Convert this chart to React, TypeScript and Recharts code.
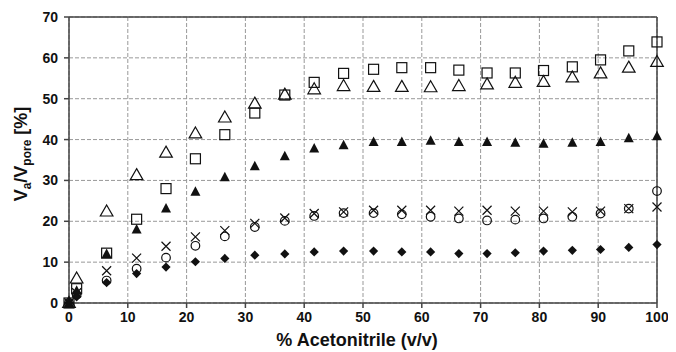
import { ScatterChart, Scatter, XAxis, YAxis, CartesianGrid, ReferenceLine } from "recharts";

// % acetonitrile (v/v) at each measurement
const acetonitrile = [0, 1.3, 6.4, 11.5, 16.5, 21.5, 26.5, 31.6, 36.7, 41.7, 46.7, 51.8, 56.6, 61.5, 66.3, 71.1, 75.9, 80.7, 85.6, 90.4, 95.2, 100];

// Va/Vpore [%] per sample (one array per marker type)
const openSquare = [0, 3.5, 12.2, 20.5, 28.0, 35.3, 41.2, 46.5, 50.9, 54.0, 56.2, 57.2, 57.6, 57.6, 57.0, 56.3, 56.3, 56.9, 57.8, 59.5, 61.7, 63.9];
const openTriangle = [0, 6.0, 22.4, 31.3, 36.8, 41.5, 45.4, 48.8, 51.0, 52.3, 53.1, 52.9, 52.9, 52.8, 53.1, 53.5, 53.9, 54.1, 55.2, 56.2, 57.6, 59.0];
const filledTriangle = [0, 3.0, 12.0, 18.0, 23.1, 27.2, 30.8, 33.5, 35.9, 37.8, 38.6, 39.4, 39.4, 39.7, 39.4, 39.4, 39.2, 39.0, 39.2, 39.4, 40.3, 40.8];
const cross = [0, 2.5, 7.9, 11.0, 13.9, 16.2, 17.7, 19.5, 20.8, 21.9, 22.3, 22.7, 22.7, 22.7, 22.5, 22.7, 22.5, 22.5, 22.3, 22.5, 23.1, 23.5];
const openCircle = [0, 2.0, 5.5, 8.4, 11.1, 14.0, 16.3, 18.6, 20.1, 21.3, 22.0, 22.0, 21.7, 21.1, 20.7, 20.2, 20.4, 20.7, 21.1, 21.9, 23.1, 27.4];
const filledDiamond = [0, 1.5, 5.0, 7.2, 8.8, 10.1, 10.9, 11.7, 12.0, 12.5, 12.7, 12.7, 12.5, 12.5, 12.1, 12.1, 12.3, 12.7, 12.9, 13.1, 13.6, 14.3];

const xTicks = [0, 10, 20, 30, 40, 50, 60, 70, 80, 90, 100];
const yTicks = [0, 10, 20, 30, 40, 50, 60, 70];

const toPoints = (ys: number[]) => acetonitrile.map((x, i) => ({ x, y: ys[i] }));

const ink = "#111";
const font = "'Liberation Sans', Arial, sans-serif";

const SquareMark = ({ cx, cy }: any) => (
    <rect x={cx - 5} y={cy - 5} width={10} height={10} fill="none" stroke={ink} strokeWidth={1.2} />
);
const TriangleMark = ({ cx, cy }: any) => (
    <path d={`M${cx},${cy - 6.5} L${cx + 6.3},${cy + 4.5} L${cx - 6.3},${cy + 4.5} Z`} fill="none" stroke={ink} strokeWidth={1.2} />
);
const FilledTriangleMark = ({ cx, cy }: any) => (
    <path d={`M${cx},${cy - 5.5} L${cx + 5},${cy + 4} L${cx - 5},${cy + 4} Z`} fill={ink} />
);
const CrossMark = ({ cx, cy }: any) => (
    <path d={`M${cx - 4.5},${cy - 4.5} L${cx + 4.5},${cy + 4.5} M${cx + 4.5},${cy - 4.5} L${cx - 4.5},${cy + 4.5}`} stroke={ink} strokeWidth={1.2} />
);
const CircleMark = ({ cx, cy }: any) => (
    <circle cx={cx} cy={cy} r={4.3} fill="none" stroke={ink} strokeWidth={1.2} />
);
const DiamondMark = ({ cx, cy }: any) => (
    <path d={`M${cx},${cy - 4.6} L${cx + 4.6},${cy} L${cx},${cy + 4.6} L${cx - 4.6},${cy} Z`} fill={ink} />
);

const YTitle = ({ viewBox }: any) => {
    const x = 19;
    const y = viewBox.y + viewBox.height / 2 - 6;
    return (
        <text x={x} y={y} transform={`rotate(-90 ${x} ${y})`} textAnchor="middle" fontFamily={font} fontWeight="bold" fontSize={18} fill={ink}>
            V<tspan fontSize={12} dy={4}>a</tspan>
            <tspan dy={-4}>/V</tspan>
            <tspan fontSize={12} dy={4}>pore</tspan>
            <tspan dy={-4}> [%]</tspan>
        </text>
    );
};

const App = () => {
    const tickStyle = { fontFamily: font, fontWeight: "bold", fontSize: 14, fill: ink };
    return (
        <ScatterChart width={660} height={344} margin={{ top: 9, right: 11, bottom: 0, left: 0 }}>
            <CartesianGrid stroke="#999" strokeDasharray="4 2" />
            <XAxis
                type="number"
                dataKey="x"
                domain={[0, 100]}
                ticks={xTicks}
                height={49}
                tick={tickStyle}
                tickSize={5}
                tickMargin={4}
                stroke="#444"
                strokeWidth={1.5}
                label={{ value: "% Acetonitrile (v/v)", position: "insideBottom", offset: 6, dx: -6, style: { fontFamily: font, fontWeight: "bold", fontSize: 18, fill: ink } }}
            />
            <YAxis
                type="number"
                dataKey="y"
                domain={[0, 70]}
                ticks={yTicks}
                width={61}
                tick={tickStyle}
                tickSize={5}
                tickMargin={6}
                stroke="#444"
                strokeWidth={1.5}
                label={{ content: YTitle }}
            />
            <ReferenceLine y={70} stroke="#444" strokeWidth={1.5} />
            <ReferenceLine x={100} stroke="#444" strokeWidth={1.5} />
            <Scatter data={toPoints(filledDiamond)} shape={DiamondMark} isAnimationActive={false} />
            <Scatter data={toPoints(openCircle)} shape={CircleMark} isAnimationActive={false} />
            <Scatter data={toPoints(cross)} shape={CrossMark} isAnimationActive={false} />
            <Scatter data={toPoints(filledTriangle)} shape={FilledTriangleMark} isAnimationActive={false} />
            <Scatter data={toPoints(openSquare)} shape={SquareMark} isAnimationActive={false} />
            <Scatter data={toPoints(openTriangle)} shape={TriangleMark} isAnimationActive={false} />
        </ScatterChart>
    );
};

export default App;
